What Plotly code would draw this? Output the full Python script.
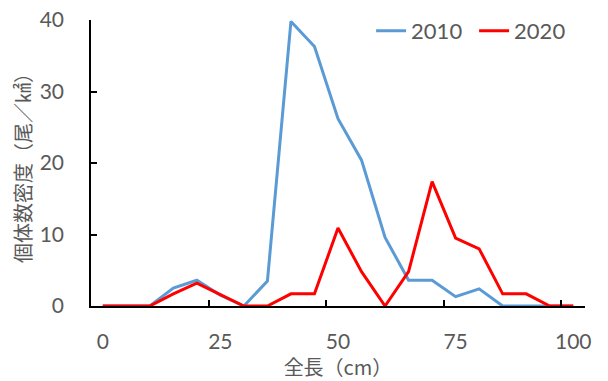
import plotly.graph_objects as go

lengths = [0, 5, 10, 15, 20, 25, 30, 35, 40, 45, 50, 55, 60, 65, 70, 75, 80, 85, 90, 95, 100]
density_2010 = [0, 0, 0, 2.5, 3.6, 1.5, 0, 3.5, 39.8, 36.3, 26.2, 20.4, 9.6, 3.6, 3.6, 1.3, 2.4, 0, 0, 0, 0]
density_2020 = [0, 0, 0, 1.7, 3.2, 1.6, 0, 0, 1.7, 1.7, 10.9, 4.8, 0, 4.8, 17.4, 9.5, 8.0, 1.7, 1.7, 0, 0]
x_tick_vals = [0, 25, 50, 75, 100]
x_tick_text = ["0", "25", "50", "75", "100"]
x_minor_ticks = [22.5, 47.5, 72.5, 97.5]
y_tick_vals = [0, 10, 20, 30, 40]
series_names = ["2010", "2020"]
series_colors = ["#5B9BD5", "#FF0000"]

GRAY = "#595959"
NUM_FONT = "Lato"
JP_FONT = "Noto Sans CJK JP"

fig = go.Figure()
for name, vals, color in zip(series_names, [density_2010, density_2020], series_colors):
    fig.add_trace(go.Scatter(x=lengths, y=vals, mode="lines", name=name,
                             line=dict(color=color, width=3)))

# invisible trace to activate the overlaid tick axis
fig.add_trace(go.Scatter(x=[lengths[0]], y=[0], xaxis="x2", mode="markers",
                         marker=dict(opacity=0), showlegend=False, hoverinfo="skip"))

fig.update_layout(
    width=608, height=381,
    margin=dict(l=91, r=23, t=20, b=75, autoexpand=False),
    paper_bgcolor="white", plot_bgcolor="white",
    showlegend=True,
    legend=dict(orientation="h", x=0.567, xanchor="left", y=0.962, yanchor="middle",
                font=dict(family=NUM_FONT, size=22, color=GRAY),
                bgcolor="rgba(0,0,0,0)", itemwidth=30, tracegroupgap=0,
                entrywidthmode="pixels", entrywidth=58),
    xaxis=dict(range=[-2.5, 102.5], tickmode="array", tickvals=x_tick_vals, ticktext=x_tick_text,
               ticks="", showgrid=False, zeroline=False, automargin=False,
               showline=True, linecolor="black", linewidth=1.5,
               tickfont=dict(family=NUM_FONT, size=21, color=GRAY),
               ticklabelstandoff=16,
               title=dict(text="全長（cm）", font=dict(family=JP_FONT, size=20, color=GRAY), standoff=2)),
    xaxis2=dict(range=[-2.5, 102.5], overlaying="x", anchor="y", side="bottom",
                tickmode="array", tickvals=x_minor_ticks, ticks="inside", ticklen=6,
                tickcolor="black", tickwidth=1.5, showticklabels=False, automargin=False,
                showgrid=False, zeroline=False, showline=False),
    yaxis=dict(range=[0, 40], tickmode="array", tickvals=y_tick_vals,
               ticks="inside", ticklen=6, tickcolor="black", tickwidth=1.5,
               showgrid=False, zeroline=False, automargin=False,
               showline=True, linecolor="black", linewidth=1.5,
               tickfont=dict(family=NUM_FONT, size=21, color=GRAY),
               ticklabelstandoff=21,
               title=dict(text="個体数密度（尾／㎢）", font=dict(family=JP_FONT, size=20, color=GRAY), standoff=3)),
)

fig.write_html("out.html", config={"displayModeBar": False},
               post_script="document.body.style.margin='0';")
